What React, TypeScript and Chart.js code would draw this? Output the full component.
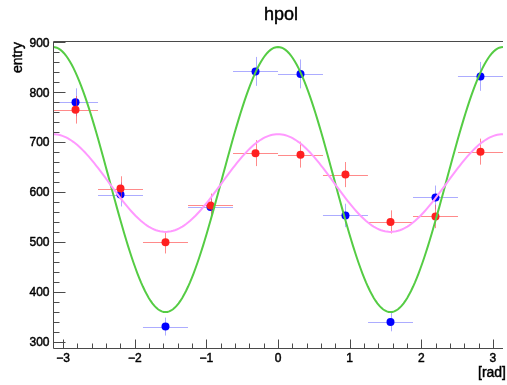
import { useEffect, useRef } from 'react';
import { Chart, registerables } from 'chart.js';

Chart.register(...registerables);

// ---- data ----
const BIN_CENTERS = [-2.827, -2.199, -1.571, -0.942, -0.314, 0.314, 0.942, 1.571, 2.199, 2.827];
const BIN_HALF_WIDTH = 0.314;
const BLUE_VALUES = [780, 595, 330, 570, 842, 837, 553, 339, 589, 832];
const BLUE_ERRORS = [28, 24, 18, 24, 29, 29, 23.5, 18.5, 24, 29];
const RED_VALUES = [765, 607, 499, 573, 678, 675, 635, 540, 551, 681];
const RED_ERRORS = [27.7, 24.6, 22.3, 23.9, 26, 26, 25.2, 23.2, 23.5, 26.1];
// fit functions: offset + amplitude * cos(2x)
const GREEN_FIT = { offset: 625, amplitude: 266 };
const MAGENTA_FIT = { offset: 618, amplitude: 98 };

const X_MIN = -Math.PI;
const X_MAX = Math.PI;
const Y_MIN = 285;
const Y_MAX = 901;
const X_TICKS = [-3, -2, -1, 0, 1, 2, 3];
const X_TICK_LABELS = ['\u22123', '\u22122', '\u22121', '0', '1', '2', '3'];
const Y_TICKS = [300, 400, 500, 600, 700, 800, 900];
const Y_TICK_LABELS = ['300', '400', '500', '600', '700', '800', '900'];
const TITLE = 'hpol';
const X_TITLE = '[rad]';
const Y_TITLE = 'entry';

const FONT = '"Liberation Sans", Arial, Helvetica, sans-serif';

function fitCurve(fit: { offset: number; amplitude: number }) {
  const pts: { x: number; y: number }[] = [];
  const n = 240;
  for (let i = 0; i <= n; i++) {
    const x = X_MIN + ((X_MAX - X_MIN) * i) / n;
    pts.push({ x, y: fit.offset + fit.amplitude * Math.cos(2 * x) });
  }
  return pts;
}

function heavyText(ctx: CanvasRenderingContext2D, text: string, x: number, y: number) {
  ctx.fillText(text, x, y);
  ctx.strokeText(text, x, y);
}

const errorBarsPlugin = {
  id: 'errorBars',
  beforeDatasetDraw(chart: any, args: any) {
    const ds = chart.data.datasets[args.index] as any;
    if (!ds.errors) return;
    const { ctx, scales } = chart;
    const xs = scales.x;
    const ys = scales.y;
    ctx.save();
    ctx.strokeStyle = ds.errorColor;
    ctx.lineWidth = 1;
    ds.data.forEach((p: any, i: number) => {
      const px = xs.getPixelForValue(p.x);
      const py = ys.getPixelForValue(p.y);
      const x0 = xs.getPixelForValue(p.x - BIN_HALF_WIDTH);
      const x1 = xs.getPixelForValue(p.x + BIN_HALF_WIDTH);
      const y0 = ys.getPixelForValue(p.y - ds.errors[i]);
      const y1 = ys.getPixelForValue(p.y + ds.errors[i]);
      ctx.beginPath();
      ctx.moveTo(x0, Math.round(py) + 0.5);
      ctx.lineTo(x1, Math.round(py) + 0.5);
      ctx.moveTo(Math.round(px) + 0.5, y0);
      ctx.lineTo(Math.round(px) + 0.5, y1);
      ctx.stroke();
    });
    ctx.restore();
  },
};

const rootAxesPlugin = {
  id: 'rootAxes',
  afterDraw(chart: any) {
    const { ctx, chartArea: a, scales } = chart;
    const xs = scales.x;
    const ys = scales.y;
    ctx.save();
    ctx.strokeStyle = '#4a4a4a';
    ctx.lineWidth = 1;
    const L = Math.round(a.left) + 0.5;
    const T = Math.round(a.top) - 0.5;
    const B = Math.round(a.bottom) - 0.5;
    const R = a.right;
    ctx.beginPath();
    ctx.moveTo(L, T);
    ctx.lineTo(R, T);
    ctx.moveTo(L, T);
    ctx.lineTo(L, B);
    ctx.lineTo(R, B);
    ctx.stroke();

    // x ticks (inside, upwards)
    ctx.beginPath();
    for (let v = -3.2; v <= 3.21; v += 0.2) {
      const vv = Math.round(v * 10) / 10;
      if (vv < X_MIN || vv > X_MAX) continue;
      const px = Math.round(xs.getPixelForValue(vv)) + 0.5;
      const major = Math.abs(vv - Math.round(vv)) < 1e-6;
      ctx.moveTo(px, B);
      ctx.lineTo(px, B - (major ? 9 : 5));
    }
    // y ticks (inside, rightwards)
    for (let v = 280; v <= 920; v += 20) {
      if (v < Y_MIN || v > Y_MAX) continue;
      const py = Math.round(ys.getPixelForValue(v)) + 0.5;
      const major = v % 100 === 0;
      ctx.moveTo(L, py);
      ctx.lineTo(L + (major ? 12 : 6), py);
    }
    ctx.stroke();

    ctx.fillStyle = '#000';
    ctx.strokeStyle = '#000';
    ctx.lineWidth = 0.45;
    ctx.font = `12px ${FONT}`;
    ctx.textAlign = 'center';
    ctx.textBaseline = 'middle';
    X_TICKS.forEach((t, i) => {
      heavyText(ctx, X_TICK_LABELS[i], xs.getPixelForValue(t), B + 10);
    });
    ctx.textAlign = 'right';
    Y_TICKS.forEach((t, i) => {
      heavyText(ctx, Y_TICK_LABELS[i], L - 4, ys.getPixelForValue(t) + 1);
    });

    // axis titles
    ctx.font = `14px ${FONT}`;
    ctx.textAlign = 'right';
    heavyText(ctx, X_TITLE, chart.width - 1, 373);
    ctx.save();
    ctx.translate(18, a.top);
    ctx.rotate(-Math.PI / 2);
    ctx.textAlign = 'right';
    heavyText(ctx, Y_TITLE, 0, 0);
    ctx.restore();

    // title
    ctx.font = `18px ${FONT}`;
    ctx.textAlign = 'center';
    heavyText(ctx, TITLE, 281, 15);
    ctx.restore();
  },
};

export default function App() {
  const ref = useRef<HTMLCanvasElement | null>(null);
  useEffect(() => {
    document.body.style.margin = '0';
    const canvas = ref.current;
    if (!canvas) return;
    const chart = new Chart(canvas, {
      type: 'scatter',
      data: {
        datasets: [
          {
            label: 'magenta fit',
            data: fitCurve(MAGENTA_FIT),
            showLine: true,
            borderColor: '#ff99ff',
            borderWidth: 2,
            pointRadius: 0,
            order: 1,
          } as any,
          {
            label: 'green fit',
            data: fitCurve(GREEN_FIT),
            showLine: true,
            borderColor: '#55cc44',
            borderWidth: 2,
            pointRadius: 0,
            order: 2,
          } as any,
          {
            label: 'red',
            data: BIN_CENTERS.map((x, i) => ({ x, y: RED_VALUES[i] })),
            errors: RED_ERRORS,
            errorColor: 'rgba(255,60,60,0.6)',
            backgroundColor: '#ff2020',
            borderWidth: 0,
            pointRadius: 4,
            order: 3,
          } as any,
          {
            label: 'blue',
            data: BIN_CENTERS.map((x, i) => ({ x, y: BLUE_VALUES[i] })),
            errors: BLUE_ERRORS,
            errorColor: 'rgba(90,90,255,0.5)',
            backgroundColor: '#0000ff',
            borderWidth: 0,
            pointRadius: 4,
            order: 4,
          } as any,
        ],
      },
      options: {
        animation: false,
        responsive: false,
        devicePixelRatio: 1,
        events: [],
        layout: { padding: { left: 53, right: 0, top: 42, bottom: 36 } },
        plugins: {
          legend: { display: false },
          tooltip: { enabled: false },
          title: { display: false },
        },
        scales: {
          x: { type: 'linear', min: X_MIN, max: X_MAX, display: false },
          y: { type: 'linear', min: Y_MIN, max: Y_MAX, display: false },
        },
      },
      plugins: [errorBarsPlugin, rootAxesPlugin],
    });
    return () => chart.destroy();
  }, []);
  return (
    <div style={{ position: 'absolute', left: 0, top: 0, width: 507, height: 385 }}>
      <canvas ref={ref} width={507} height={385} style={{ display: 'block' }} />
    </div>
  );
}
